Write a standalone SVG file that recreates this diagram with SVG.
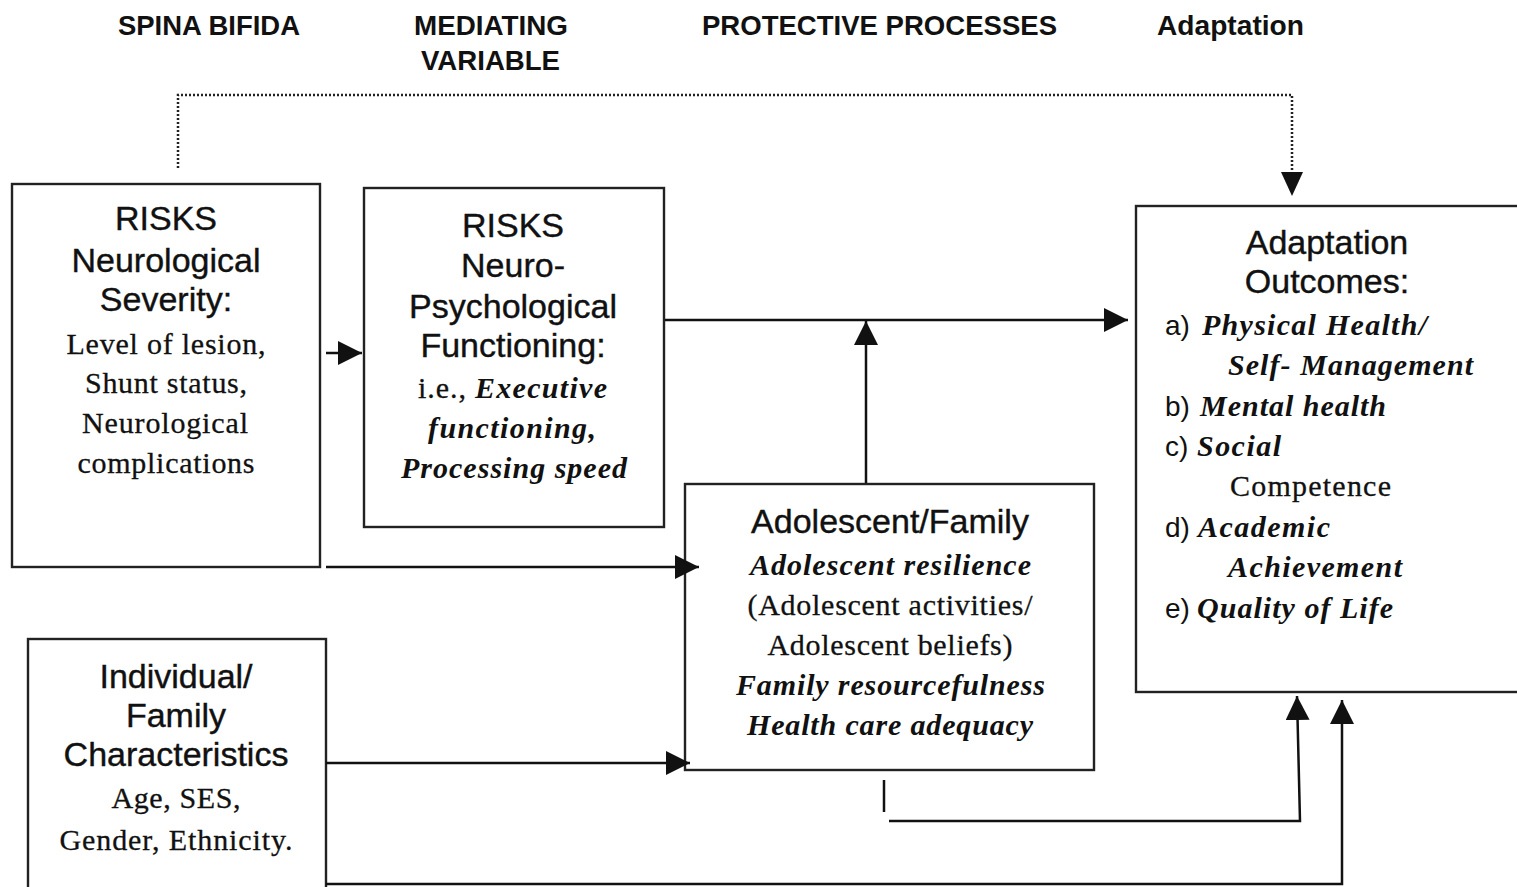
<svg xmlns="http://www.w3.org/2000/svg" width="1517" height="887" viewBox="0 0 1517 887">
<style>
.box{fill:#fff;stroke:#222;stroke-width:2.4}
.hd{font-family:"Liberation Sans",Arial,sans-serif;font-weight:bold;font-size:28px;fill:#111}
.sn{font-family:"Liberation Sans",Arial,sans-serif;font-size:34px;fill:#111;text-anchor:middle;stroke:#111;stroke-width:0.4}
.sr{font-family:"Liberation Serif","Times New Roman",serif;font-size:30px;fill:#111;text-anchor:middle;stroke:#111;stroke-width:0.3}
.bi{font-family:"Liberation Serif","Times New Roman",serif;font-size:30px;font-weight:bold;font-style:italic;fill:#111}
.lb{font-family:"Liberation Sans",Arial,sans-serif;font-size:28px;fill:#111}
.ln{fill:none;stroke:#111;stroke-width:2.5}
.dot{fill:none;stroke:#222;stroke-width:2.5;stroke-dasharray:2 2}
</style>
<defs>
<marker id="ah" markerUnits="userSpaceOnUse" markerWidth="26" markerHeight="24" refX="24" refY="12" orient="auto">
<path d="M0,0 L24,12 L0,24 z" fill="#111"/>
</marker>
</defs>
<rect width="1517" height="887" fill="#fff"/>
<g id="headers">
<text class="hd" x="118" y="35" textLength="182" lengthAdjust="spacingAndGlyphs">SPINA BIFIDA</text>
<text class="hd" x="414" y="35" textLength="154" lengthAdjust="spacingAndGlyphs">MEDIATING</text>
<text class="hd" x="421" y="70" textLength="139" lengthAdjust="spacingAndGlyphs">VARIABLE</text>
<text class="hd" x="702" y="35" textLength="355" lengthAdjust="spacingAndGlyphs">PROTECTIVE PROCESSES</text>
<text class="hd" x="1157" y="35" textLength="147" lengthAdjust="spacingAndGlyphs">Adaptation</text>
</g>
<g id="risks-neuro">
<rect class="box" x="12" y="184" width="308" height="383"/>
<text class="sn" x="166" y="230">RISKS</text>
<text class="sn" x="166" y="272">Neurological</text>
<text class="sn" x="166" y="311">Severity:</text>
<text class="sr" x="166" y="354" textLength="199">Level of lesion,</text>
<text class="sr" x="166" y="393" textLength="162">Shunt status,</text>
<text class="sr" x="165" y="433" textLength="166">Neurological</text>
<text class="sr" x="166" y="473" textLength="177">complications</text>
</g>
<g id="risks-psych">
<rect class="box" x="364" y="188" width="300" height="339"/>
<text class="sn" x="513" y="237">RISKS</text>
<text class="sn" x="513" y="277">Neuro-</text>
<text class="sn" x="513" y="318">Psychological</text>
<text class="sn" x="513" y="357">Functioning:</text>
<text class="sr" x="418" y="398" style="text-anchor:start" textLength="48">i.e.,</text>
<text class="bi" x="475" y="398" textLength="132">Executive</text>
<text class="bi" x="428" y="438" textLength="168">functioning,</text>
<text class="bi" x="401" y="478" textLength="226">Processing speed</text>
</g>
<g id="adolescent-family">
<rect class="box" x="685" y="484" width="409" height="286"/>
<text class="sn" x="890" y="533">Adolescent/Family</text>
<text class="bi" x="750" y="575" textLength="281">Adolescent resilience</text>
<text class="sr" x="890" y="615" textLength="285">(Adolescent activities/</text>
<text class="sr" x="890" y="655" textLength="245">Adolescent beliefs)</text>
<text class="bi" x="736" y="695" textLength="309">Family resourcefulness</text>
<text class="bi" x="747" y="735" textLength="286">Health care adequacy</text>
</g>
<g id="adaptation-outcomes">
<rect class="box" x="1136" y="206" width="384" height="486"/>
<text class="sn" x="1327" y="254">Adaptation</text>
<text class="sn" x="1327" y="293">Outcomes:</text>
<text class="lb" x="1165" y="335">a)</text>
<text class="bi" x="1202" y="335" textLength="225">Physical Health/</text>
<text class="bi" x="1228" y="375" textLength="245">Self- Management</text>
<text class="lb" x="1165" y="416">b)</text>
<text class="bi" x="1200" y="416" textLength="186">Mental health</text>
<text class="lb" x="1165" y="456">c)</text>
<text class="bi" x="1197" y="456" textLength="84">Social</text>
<text class="sr" x="1230" y="496" style="text-anchor:start" textLength="161">Competence</text>
<text class="lb" x="1165" y="537">d)</text>
<text class="bi" x="1198" y="537" textLength="132">Academic</text>
<text class="bi" x="1228" y="577" textLength="174">Achievement</text>
<text class="lb" x="1165" y="618">e)</text>
<text class="bi" x="1197" y="618" textLength="196">Quality of Life</text>
</g>
<g id="individual-family">
<rect class="box" x="28" y="639" width="298" height="260"/>
<text class="sn" x="176" y="688">Individual/</text>
<text class="sn" x="176" y="727">Family</text>
<text class="sn" x="176" y="766">Characteristics</text>
<text class="sr" x="176" y="808" textLength="129">Age, SES,</text>
<text class="sr" x="176" y="850" textLength="233">Gender, Ethnicity.</text>
</g>
<g id="connectors">
<path class="dot" d="M178,168 V95 H1292 V172"/>
<path d="M1281,172 L1303,172 L1292,196 z" fill="#111"/>
<line class="ln" x1="326" y1="353" x2="362" y2="353" marker-end="url(#ah)"/>
<line class="ln" x1="665" y1="320" x2="1128" y2="320" marker-end="url(#ah)"/>
<line class="ln" x1="866" y1="483" x2="866" y2="321" marker-end="url(#ah)"/>
<line class="ln" x1="326" y1="567" x2="699" y2="567" marker-end="url(#ah)"/>
<line class="ln" x1="326" y1="763" x2="690" y2="763" marker-end="url(#ah)"/>
<path class="ln" d="M884,780 V812"/>
<path class="ln" d="M889,821 H1300 L1297,696" marker-end="url(#ah)"/>
<path class="ln" d="M326,884 H1342 V700" marker-end="url(#ah)"/>
</g>
</svg>
